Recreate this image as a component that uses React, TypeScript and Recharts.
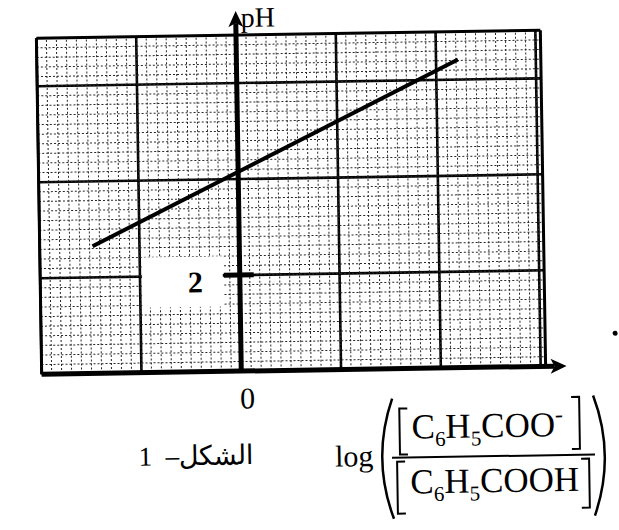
import React from "react";
import {
  ComposedChart,
  Line,
  XAxis,
  YAxis,
  CartesianGrid,
  ReferenceLine,
  ReferenceArea,
} from "recharts";

const SERIF = '"Liberation Serif", "Times New Roman", serif';

// end points of the drawn line: log([C6H5COO-]/[C6H5COOH]) and pH
const logRatio = [-1.47, 2.22];
const phValues = [2.65, 6.42];

const xDomain = [-2, 3.05];
const yDomain = [0, 7];
const majorX = [-2, -1, 0, 1, 2, 3];
const majorY = [0, 2, 4, 6];
const xTicks = [0];
const phMark = 2;

const data = logRatio.map((x, i) => ({ x, ph: phValues[i] }));

// graph-paper fine lines: 0.1 unit across, 0.2 pH up
const minorX = Array.from({ length: 51 }, (_, i) => +(-2 + i * 0.1).toFixed(2));
const minorY = Array.from({ length: 36 }, (_, i) => +(i * 0.2).toFixed(2));

const minorStyle = {
  stroke: "#262626",
  strokeWidth: 1,
  strokeDasharray: "2 2",
  zIndex: -50,
};

const AxisArrow = (p: any) => {
  const { x1, y1, x2, y2, caption } = p;
  const len = Math.hypot(x2 - x1, y2 - y1);
  const ux = (x2 - x1) / len;
  const uy = (y2 - y1) / len;
  const head = 16;
  const half = 7.5;
  const notch = 4;
  const bx = x2 - ux * head;
  const by = y2 - uy * head;
  const nx = -uy;
  const ny = ux;
  const pts = [
    [x2, y2],
    [bx + nx * half, by + ny * half],
    [bx + ux * notch, by + uy * notch],
    [bx - nx * half, by - ny * half],
  ]
    .map((q) => q.join(","))
    .join(" ");
  return (
    <g>
      <line
        x1={x1}
        y1={y1}
        x2={bx + ux * notch}
        y2={by + uy * notch}
        stroke="#000"
        strokeWidth={5}
      />
      <polygon points={pts} fill="#000" />
      {caption && (
        <text x={x2 + 5} y={y2 + 16} fontFamily={SERIF} fontSize={28} fill="#000">
          {caption}
        </text>
      )}
    </g>
  );
};

const Bracket = ({ x, y0, y1, open }: { x: number; y0: number; y1: number; open: boolean }) => {
  const d = open ? 8 : -8;
  return (
    <path
      d={`M ${x + d} ${y0} H ${x} V ${y1} H ${x + d}`}
      fill="none"
      stroke="#000"
      strokeWidth={2}
    />
  );
};

const Paren = ({ x, y0, y1, open }: { x: number; y0: number; y1: number; open: boolean }) => {
  const mid = (y0 + y1) / 2;
  const d = open ? 16 : -16;
  return (
    <path
      d={`M ${x + d} ${y0} Q ${x - d * 0.35} ${mid} ${x + d} ${y1}`}
      fill="none"
      stroke="#000"
      strokeWidth={2.5}
    />
  );
};

export default function App() {
  return (
    <div
      style={{
        position: "absolute",
        left: 0,
        top: 0,
        width: 619,
        height: 530,
        background: "#fff",
        overflow: "hidden",
      }}
    >
      <div
        style={{
          position: "absolute",
          left: 0,
          top: 0,
          width: 619,
          height: 530,
          transform: "rotate(-0.9deg)",
          transformOrigin: "309px 265px",
        }}
      >
        <ComposedChart
          width={619}
          height={530}
          data={data}
          margin={{ top: 34, right: 75, bottom: 120, left: 40 }}
        >
          <XAxis
            type="number"
            dataKey="x"
            domain={xDomain}
            ticks={xTicks}
            allowDataOverflow
            axisLine={false}
            tickLine={false}
            tickMargin={10}
            height={40}
            tick={{ fill: "#000", fontSize: 30, fontFamily: SERIF, dx: 6 }}
          />
          <YAxis type="number" domain={yDomain} allowDataOverflow hide />
          {minorX.map((v) => (
            <ReferenceLine key={`mx${v}`} x={v} {...minorStyle} />
          ))}
          {minorY.map((v) => (
            <ReferenceLine key={`my${v}`} y={v} {...minorStyle} />
          ))}
          <CartesianGrid
            verticalValues={majorX}
            horizontalValues={majorY}
            stroke="#000"
            strokeWidth={2.6}
          />
          <ReferenceLine x={-2} stroke="#000" strokeWidth={3} />
          <ReferenceLine x={3.05} stroke="#000" strokeWidth={3} />
          <ReferenceLine y={7} stroke="#000" strokeWidth={3} />
          <ReferenceArea
            x1={-0.98}
            x2={-0.17}
            y1={1.35}
            y2={2.4}
            fill="#fff"
            fillOpacity={1}
            stroke="none"
            label={{
              value: String(phMark),
              position: "insideRight",
              offset: 20,
              fill: "#000",
              fontSize: 30,
              fontWeight: 700,
              fontFamily: SERIF,
            }}
          />
          <ReferenceLine
            segment={[
              { x: -2, y: 0 },
              { x: 3.26, y: 0 },
            ]}
            ifOverflow="visible"
            shape={(p: any) => <AxisArrow {...p} />}
          />
          <ReferenceLine
            segment={[
              { x: 0, y: 0 },
              { x: 0, y: 7.5 },
            ]}
            ifOverflow="visible"
            shape={(p: any) => <AxisArrow {...p} caption="pH" />}
          />
          <ReferenceLine
            segment={[
              { x: -0.16, y: phMark },
              { x: 0.14, y: phMark },
            ]}
            stroke="#000"
            strokeWidth={5}
          />
          <Line
            dataKey="ph"
            stroke="#000"
            strokeWidth={4}
            dot={false}
            isAnimationActive={false}
          />
        </ComposedChart>

        <svg
          width={619}
          height={530}
          style={{ position: "absolute", left: 0, top: 0, pointerEvents: "none" }}
        >
          <text
            x={251}
            y={463}
            direction="rtl"
            textAnchor="start"
            fontFamily={SERIF}
            fontSize={27}
            fill="#000"
          >
            {"الشكل–\u00a0\u00a01"}
          </text>

          <text x={332} y={467} fontFamily={SERIF} fontSize={30} fill="#000">
            log
          </text>
          <Paren x={374} y0={400} y1={520} open />
          <Paren x={607} y0={400} y1={520} open={false} />

          <Bracket x={397} y0={410} y1={456} open />
          <Bracket x={577} y0={401} y1={453} open={false} />
          <text x={409} y={440} fontFamily={SERIF} fontSize={35} fill="#000">
            C
            <tspan fontSize={21} dy={8}>6</tspan>
            <tspan dy={-8}>H</tspan>
            <tspan fontSize={21} dy={8}>5</tspan>
            <tspan dy={-8}>COO</tspan>
            <tspan fontSize={24} dy={-14}>-</tspan>
          </text>

          <line x1={389} y1={459} x2={592} y2={459} stroke="#000" strokeWidth={2} />

          <Bracket x={394} y0={463} y1={515} open />
          <Bracket x={586} y0={463} y1={512} open={false} />
          <text x={407} y={495} fontFamily={SERIF} fontSize={35} fill="#000">
            C
            <tspan fontSize={21} dy={8}>6</tspan>
            <tspan dy={-8}>H</tspan>
            <tspan fontSize={21} dy={8}>5</tspan>
            <tspan dy={-8}>COOH</tspan>
          </text>

          <circle cx={614} cy={338} r={2.5} fill="#000" />
        </svg>
      </div>
    </div>
  );
}
